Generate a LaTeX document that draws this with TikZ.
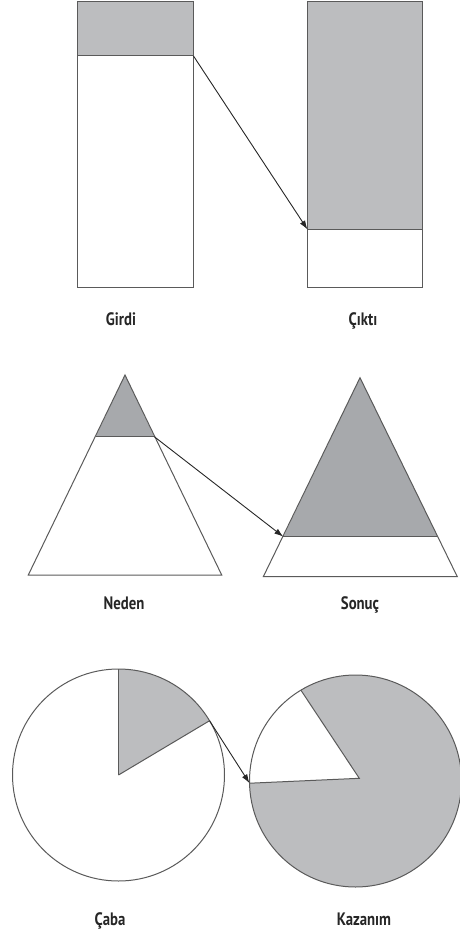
\documentclass[tikz,border=0pt]{standalone}
\usepackage{fontspec}
\setmainfont{PT Sans}[FakeStretch=0.82]
\usetikzlibrary{arrows.meta,calc}
\definecolor{lightg}{HTML}{BCBDBF}
\definecolor{darkg}{HTML}{A7A9AC}
\definecolor{edgec}{HTML}{5A5A5A}
\tikzset{
  outl/.style={draw=edgec, line width=1pt, line join=miter},
  conn/.style={draw=black!85, line width=0.9pt, -{Latex[length=9pt,width=6pt]}},
  lbl/.style={font=\fontsize{18}{20}\selectfont\bfseries, text=black!85, inner sep=0pt, anchor=base}
}
\begin{document}
\begin{tikzpicture}[x=1pt,y=-1pt]
\useasboundingbox (0,0) rectangle (460,934);
% --- Rectangles ---
\fill[lightg] (77.5,2) rectangle (193.5,56);
\draw[outl] (77.5,2) rectangle (193.5,287);
\draw[outl] (77.5,56) -- (193.5,56);
\fill[lightg] (307.5,2) rectangle (422.5,229.5);
\draw[outl] (307.5,2) rectangle (422.5,287);
\draw[outl] (307.5,229.5) -- (422.5,229.5);
\coordinate (inA) at (193.5,56);
\coordinate (outA) at (307.5,229.5);
\draw[conn] (inA) -- (outA);
\node[lbl] (girdi) at (121,325) {Girdi};
\node[lbl] (cikti) at (363,325) {Çıktı};
% --- Triangles ---
\fill[darkg] (125,375) -- (154.3,436.7) -- (95.7,436.7) -- cycle;
\draw[outl] (125,375) -- (221.7,575) -- (28.3,575) -- cycle;
\draw[outl] (95.7,436.7) -- (154.3,436.7);
\fill[darkg] (360,377.7) -- (437.7,536.7) -- (283.3,536.7) -- cycle;
\draw[outl] (360,377.7) -- (457.3,576.7) -- (263.3,576.7) -- cycle;
\draw[outl] (283.3,536.7) -- (437.7,536.7);
\coordinate (inB) at (154.3,436.7);
\coordinate (outB) at (283.3,536.7);
\draw[conn] (inB) -- (outB);
\node[lbl] (neden) at (124,609.5) {Neden};
\node[lbl] (sonuc) at (360,609.5) {Sonuç};
% --- Circles ---
\coordinate (c1) at (118.5,775);
\fill[lightg] (c1) -- ++(0,-106) arc[start angle=-90, end angle=-30.8, radius=106] -- cycle;
\draw[outl] (c1) circle[radius=106];
\draw[outl] (c1) -- ++(0,-106);
\draw[outl] (c1) -- ++(-30.8:106);
\coordinate (c2) at (355.5,781);
\fill[lightg] (c2) circle[radius=106];
\coordinate (ap) at (359.3,778.3);
\coordinate (p1) at ($(c2)+(-121:106)$);
\coordinate (p2) at ($(c2)+(-181.2:106)$);
\fill[white] (ap) -- (p1) arc[start angle=-121, end angle=-181.2, radius=106] -- cycle;
\draw[outl] (c2) circle[radius=106];
\draw[outl] (p1) -- (ap) -- (p2);
\coordinate (inC) at ($(c1)+(-30.8:106)$);
\draw[conn] (inC) -- (p2);
\node[lbl] (caba) at (110,925.5) {Çaba};
\node[lbl] (kazanim) at (364,925.5) {Kazanım};
\end{tikzpicture}
\end{document}
